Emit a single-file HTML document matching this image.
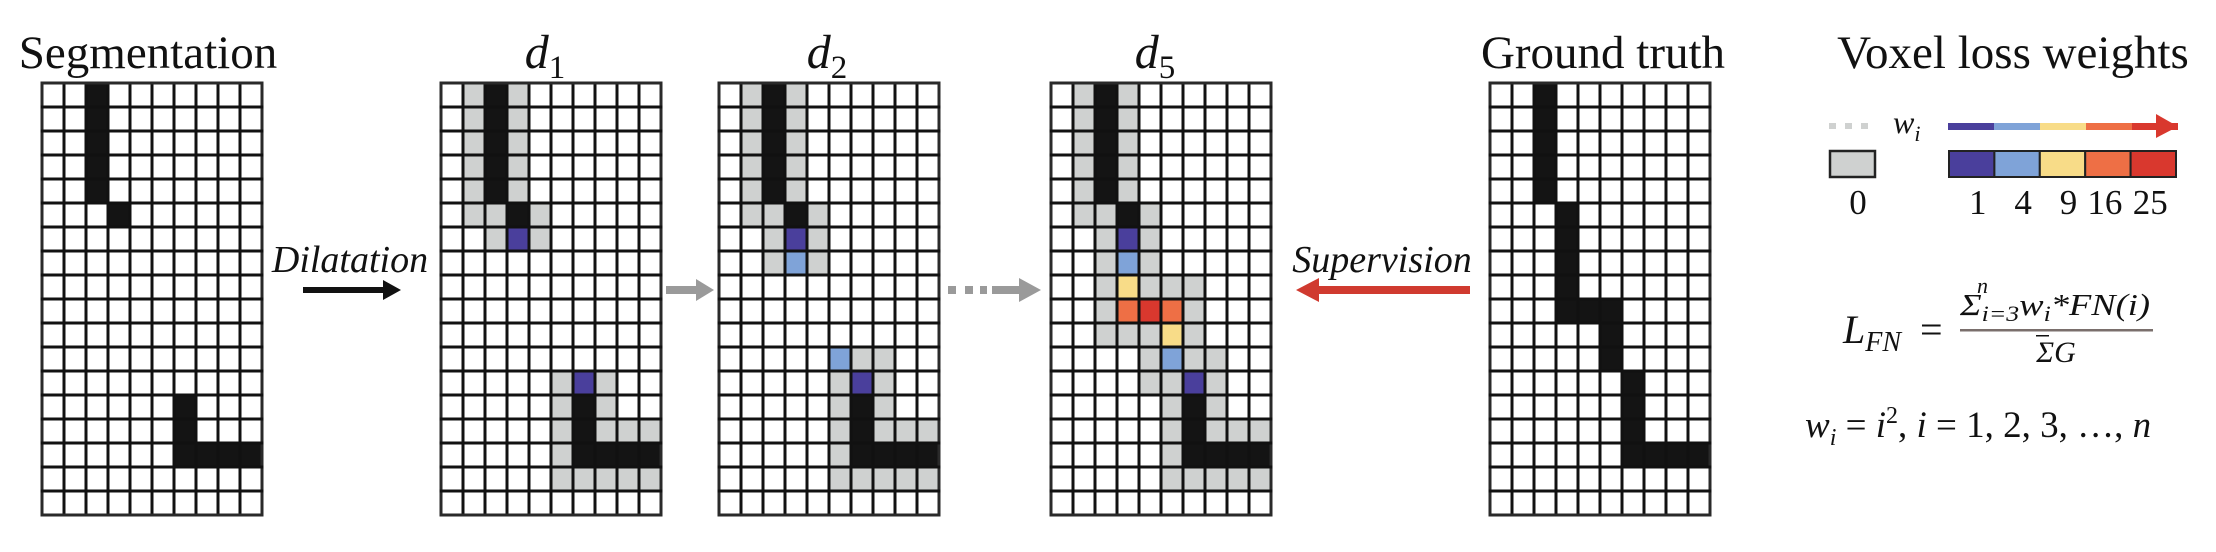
<!DOCTYPE html>
<html><head><meta charset="utf-8"><style>
html,body{margin:0;padding:0;background:#fff;}
svg{display:block;}
text{font-family:"Liberation Serif",serif;fill:#111;}
.it{font-style:italic;}
</style></head><body>
<svg id="fig" width="2216" height="552" viewBox="0 0 2216 552">
<g id="grids"></g>
<text x="148" y="68" font-size="47" text-anchor="middle">Segmentation</text>
<text x="545" y="68" font-size="48" class="it" text-anchor="middle">d<tspan font-size="33" font-style="normal" dy="10">1</tspan></text>
<text x="827" y="68" font-size="48" class="it" text-anchor="middle">d<tspan font-size="33" font-style="normal" dy="10">2</tspan></text>
<text x="1155" y="68" font-size="48" class="it" text-anchor="middle">d<tspan font-size="33" font-style="normal" dy="10">5</tspan></text>
<text x="1603" y="68" font-size="47" text-anchor="middle">Ground truth</text>
<text x="2013" y="68" font-size="47" text-anchor="middle">Voxel loss weights</text>
<text x="350" y="272" font-size="38" class="it" text-anchor="middle">Dilatation</text>
<g>
<rect x="303" y="287" width="80" height="6" fill="#111"/>
<polygon points="383,280 401,290 383,300" fill="#111"/>
</g>
<g>
<rect x="666" y="286" width="30" height="8" fill="#9a9a9a"/>
<polygon points="696,279 714,290 696,301" fill="#9a9a9a"/>
</g>
<g>
<rect x="948" y="286" width="8" height="8" fill="#9a9a9a"/>
<rect x="965" y="286" width="8" height="8" fill="#9a9a9a"/>
<rect x="980" y="286" width="7" height="8" fill="#9a9a9a"/>
<rect x="992" y="286" width="28" height="8" fill="#9a9a9a"/>
<polygon points="1019,278 1041,290 1019,302" fill="#9a9a9a"/>
</g>
<text x="1382" y="272" font-size="38" class="it" text-anchor="middle">Supervision</text>
<g>
<rect x="1317" y="286" width="153" height="8" fill="#d03a2f"/>
<polygon points="1319,278 1296,290 1319,302" fill="#d03a2f"/>
</g>
<g>
<rect x="1829" y="123" width="7" height="6" fill="#cfd1d0"/>
<rect x="1845" y="123" width="7" height="6" fill="#cfd1d0"/>
<rect x="1861" y="123" width="7" height="6" fill="#cfd1d0"/>
<text x="1893" y="133" font-size="32" class="it">w<tspan font-size="22" dy="8">i</tspan></text>
<g id="gradArrow"></g>
<rect x="1830" y="151" width="45" height="26" fill="#cfd1d0" stroke="#222" stroke-width="2.5"/>
<g id="swatches"></g>
<text x="1858" y="214" font-size="35" text-anchor="middle">0</text>
<g id="swLabels"></g>
</g>
<g>
<text x="1843" y="343" font-size="40" class="it">L<tspan font-size="28" dy="8">FN</tspan></text>
<text x="1920" y="343" font-size="40">=</text>
<text x="1960" y="315" font-size="31" class="it" textLength="190" lengthAdjust="spacingAndGlyphs">Σ<tspan font-size="22" dy="6">i=3</tspan><tspan dy="-6">w</tspan><tspan font-size="22" dy="6">i</tspan><tspan dy="-6">*FN(i)</tspan></text>
<text x="1977" y="293" font-size="22" class="it">n</text>
<rect x="1960" y="329" width="193" height="2.5" fill="#7a6f6c"/>
<text x="2056" y="362" font-size="30" class="it" text-anchor="middle">ΣG</text>
<rect x="2036" y="335" width="13" height="1.5" fill="#111"/>
</g>
<text x="1805" y="437" font-size="37" class="it">w<tspan font-size="24" dy="8">i</tspan><tspan dy="-8" font-style="normal"> = </tspan>i<tspan font-size="24" dy="-14" font-style="normal">2</tspan><tspan dy="14" font-style="normal">, </tspan>i<tspan font-style="normal"> = 1, 2, 3, …, </tspan>n</text>
</svg>
<script>
const NS='http://www.w3.org/2000/svg';
const colors={'.':'#ffffff','k':'#141414','g':'#cfd1d0','p':'#4a3f9c','b':'#7fa3d8','y':'#f8dc88','o':'#ee6f45','r':'#d9382e'};
const segRows=["..k.......","..k.......","..k.......","..k.......","..k.......","...k......","..........","..........","..........","..........","..........","..........","..........","......k...","......k...","......kkkk","..........",".........."];
const d1Rows=[".gkg......",".gkg......",".gkg......",".gkg......",".gkg......",".ggkg.....","..gpg.....","..........","..........","..........","..........","..........",".....gpg..",".....gkg..",".....gkggg",".....gkkkk",".....ggggg",".........."];
const d2Rows=[".gkg......",".gkg......",".gkg......",".gkg......",".gkg......",".ggkg.....","..gpg.....","..gbg.....","..........","..........","..........",".....bgg..",".....gpg..",".....gkg..",".....gkggg",".....gkkkk",".....ggggg",".........."];
const d5Rows=[".gkg......",".gkg......",".gkg......",".gkg......",".gkg......",".ggkg.....","..gpg.....","..gbg.....","..gyggg...","..gorog...","..gggyg...","....gbgg..","....ggpg..",".....gkg..",".....gkggg",".....gkkkk",".....ggggg",".........."];
const gtRows=["..k.......","..k.......","..k.......","..k.......","..k.......","...k......","...k......","...k......","...k......","...kkk....",".....k....",".....k....","......k...","......k...","......k...","......kkkk","..........",".........."];
const gridNames=['segmentation-grid','d1-grid','d2-grid','d5-grid','ground-truth-grid'];
const gridData=[segRows,d1Rows,d2Rows,d5Rows,gtRows];
const gridLeft=[42,441,719,1051,1490];
const GT=83, GW=220, GH=432;
const gg=document.getElementById('grids');
gridData.forEach((rows,gi)=>{
  const g=document.createElementNS(NS,'g');
  
  
  const nr=rows.length, nc=rows[0].length, cw=GW/nc, ch=GH/nr, x0=gridLeft[gi];
  rows.forEach((row,r)=>{[...row].forEach((c,ci)=>{
    const rc=document.createElementNS(NS,'rect');
    rc.setAttribute('x',x0+ci*cw);rc.setAttribute('y',GT+r*ch);
    rc.setAttribute('width',cw);rc.setAttribute('height',ch);
    rc.setAttribute('fill',colors[c]);
    
    
    g.appendChild(rc);
  });});
  for(let i=0;i<=nc;i++){const l=document.createElementNS(NS,'rect');l.setAttribute('x',x0+i*cw-1.5);l.setAttribute('y',GT-1.5);l.setAttribute('width',3);l.setAttribute('height',GH+3);l.setAttribute('fill',(i==0||i==nc)?'#2a2a2a':'#111');g.appendChild(l);}
  for(let j=0;j<=nr;j++){const l=document.createElementNS(NS,'rect');l.setAttribute('x',x0-1.5);l.setAttribute('y',GT+j*ch-1.5);l.setAttribute('width',GW+3);l.setAttribute('height',3);l.setAttribute('fill',(j==0||j==nr)?'#2a2a2a':'#111');g.appendChild(l);}
  gg.appendChild(g);
});
const weights=[1,4,9,16,25];
const wColors=['#4a3f9c','#7fa3d8','#f8dc88','#ee6f45','#d9382e'];
const sw=document.getElementById('swatches'), sl=document.getElementById('swLabels'), ga=document.getElementById('gradArrow');
const sx0=1949, sww=227/weights.length;
weights.forEach((w,i)=>{
  const r=document.createElementNS(NS,'rect');
  r.setAttribute('x',sx0+i*sww);r.setAttribute('y',151);r.setAttribute('width',sww);r.setAttribute('height',26);
  r.setAttribute('fill',wColors[i]);r.setAttribute('stroke','#222');r.setAttribute('stroke-width','2');
  
  
  sw.appendChild(r);
  const t=document.createElementNS(NS,'text');
  t.setAttribute('x',sx0+(i+0.5)*sww+(i>=3?-3:6));t.setAttribute('y',214);t.setAttribute('font-size','35');t.setAttribute('text-anchor','middle');
  t.textContent=w;
  
  
  sl.appendChild(t);
  const b=document.createElementNS(NS,'rect');
  b.setAttribute('x',1948+i*46);b.setAttribute('y',123);b.setAttribute('width',46);b.setAttribute('height',7);b.setAttribute('fill',wColors[i]);
  ga.appendChild(b);
});
const head=document.createElementNS(NS,'polygon');
head.setAttribute('points','2156,114 2178,126.5 2156,138');head.setAttribute('fill','#d9382e');ga.appendChild(head);
</script>
</body></html>
